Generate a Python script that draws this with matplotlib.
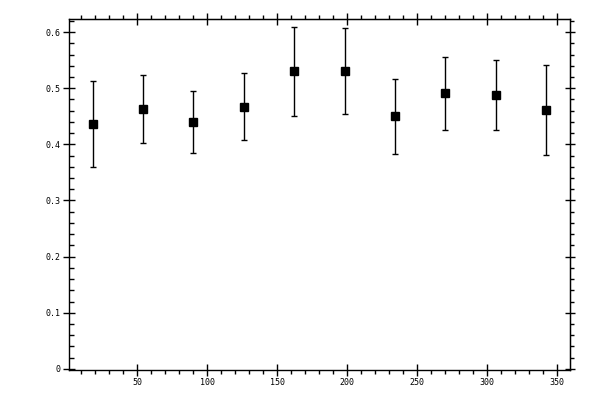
import matplotlib.pyplot as plt
from matplotlib.ticker import MultipleLocator

angle = [18, 54, 90, 126, 162, 198, 234, 270, 306, 342]
value = [0.436, 0.463, 0.440, 0.4665, 0.531, 0.531, 0.450, 0.491, 0.488, 0.461]
err_hi = [0.513, 0.5235, 0.495, 0.527, 0.609, 0.607, 0.516, 0.556, 0.550, 0.541]
err_lo = [0.360, 0.402, 0.3845, 0.408, 0.450, 0.454, 0.383, 0.4255, 0.4255, 0.381]

yerr = [[v - lo for v, lo in zip(value, err_lo)],
        [hi - v for v, hi in zip(value, err_hi)]]

plt.rcParams['font.family'] = 'DejaVu Sans Mono'

fig = plt.figure(figsize=(6, 4), dpi=100)
ax = fig.add_axes([0.1155, 0.075, 0.835, 0.877])

ax.errorbar(angle, value, yerr=yerr, fmt='s', color='k', ms=5.5,
            elinewidth=1, capsize=2.5, capthick=1)

ax.set_xlim(1.4, 359.3)
ax.set_ylim(-0.002, 0.623)

for s in ax.spines.values():
    s.set_linewidth(1)

ax.xaxis.set_major_locator(MultipleLocator(50))
ax.xaxis.set_minor_locator(MultipleLocator(10))
ax.yaxis.set_major_locator(MultipleLocator(0.1))
ax.yaxis.set_minor_locator(MultipleLocator(0.02))
ax.yaxis.set_major_formatter(lambda v, p: '0' if abs(v) < 1e-9 else f'{v:.1f}')
ax.xaxis.set_major_formatter(lambda v, p: '' if v == 0 else f'{v:g}')

ax.tick_params(which='major', direction='inout', length=8, width=1, labelsize=6, pad=2)
ax.tick_params(axis='y', which='minor', direction='in', length=3.5, width=1)
ax.tick_params(axis='x', which='minor', direction='out', length=3, width=1)

top = ax.secondary_xaxis('top')
top.xaxis.set_major_locator(MultipleLocator(50))
top.xaxis.set_minor_locator(MultipleLocator(10))
top.tick_params(which='major', direction='inout', length=8, width=1, labeltop=False)
top.tick_params(which='minor', direction='out', length=3, width=1)

right = ax.secondary_yaxis('right')
right.yaxis.set_major_locator(MultipleLocator(0.1))
right.yaxis.set_minor_locator(MultipleLocator(0.02))
right.tick_params(which='major', direction='inout', length=7, width=1, labelright=False)
right.tick_params(which='minor', direction='out', length=3, width=1)

fig.savefig('out.png', dpi=100)
